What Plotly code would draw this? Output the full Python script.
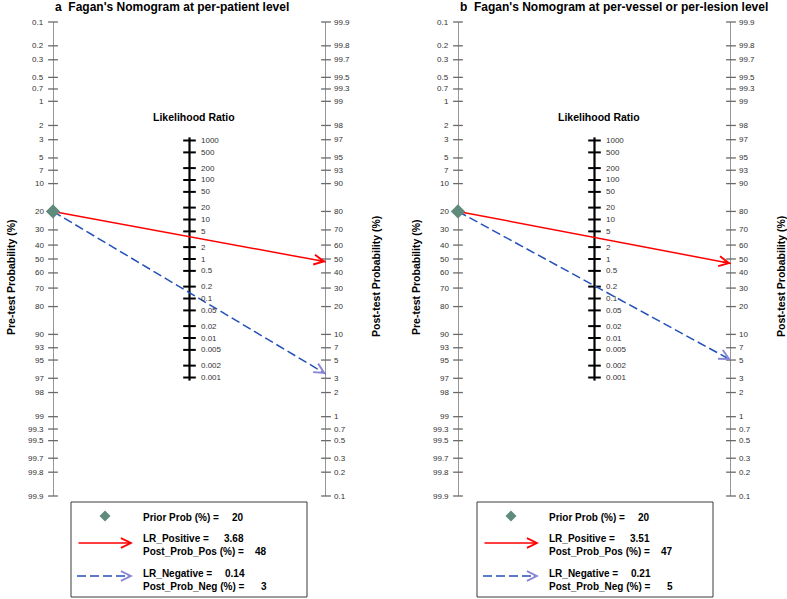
import math
import plotly.graph_objects as go

# ---------------- data ----------------
panel_titles = ["a  Fagan's Nomogram at per-patient level",
                "b  Fagan's Nomogram at per-vessel or per-lesion level"]
prior_prob = [20, 20]          # %
lr_positive = [3.68, 3.51]
lr_negative = [0.14, 0.21]
post_prob_pos = [48, 47]       # % (as printed in legend)
post_prob_neg = [3, 5]         # % (as printed in legend)

prob_ticks = ["0.1", "0.2", "0.3", "0.5", "0.7", "1", "2", "3", "5", "7", "10", "20", "30", "40",
              "50", "60", "70", "80", "90", "93", "95", "97", "98", "99", "99.3", "99.5", "99.7",
              "99.8", "99.9"]
lr_ticks = ["1000", "500", "200", "100", "50", "20", "10", "5", "2", "1", "0.5", "0.2", "0.1",
            "0.05", "0.02", "0.01", "0.005", "0.002", "0.001"]

# ---------------- layout constants ----------------
W, H = 787, 599
Y_TOP, Y_BOT = 22, 496
PAD = 12  # pixels of padding around the probability scale
PANEL_X = [(53, 326), (458, 731)]
U_MAX = math.log(0.999 / 0.001)
AX_GRAY = "#6a6a6a"
RED = "#ff0000"
BLUE = "#2350b8"
PURPLE = "#8a86d6"
DIAMOND = "#5f8a7c"
FONT = "Liberation Sans, Arial, sans-serif"


def logit(p):
    return math.log(p / (1 - p))


def px(x):
    return x / W


def py(y):
    return 1 - y / H


YS = (Y_BOT - Y_TOP) / (2 * U_MAX)   # pixels per logit unit
U_RANGE = U_MAX + PAD / YS

fig = go.Figure()
annotations = []
shapes = []
layout_axes = {}

for i in range(2):
    xL, xR = PANEL_X[i]
    xa = "x" if i == 0 else "x2"
    ya = "y" if i == 0 else "y2"
    xname = "xaxis" if i == 0 else "xaxis2"
    yname = "yaxis" if i == 0 else "yaxis2"
    layout_axes[xname] = dict(domain=[px(xL), px(xR)], range=[0, 1], visible=False,
                              fixedrange=True, anchor=ya)
    layout_axes[yname] = dict(domain=[py(Y_BOT + PAD), py(Y_TOP - PAD)],
                              range=[U_RANGE, -U_RANGE],
                              visible=False, fixedrange=True, anchor=xa)

    pre_u = [logit(float(t) / 100) for t in prob_ticks]       # left axis (pre-test)
    post_vals = [100 - float(t) for t in prob_ticks]         # right axis labels (post-test)
    lr_u = [-math.log(float(t)) / 2 for t in lr_ticks]

    # left & right probability axes
    for xv in (0, 1):
        fig.add_trace(go.Scatter(x=[xv, xv], y=[-U_MAX, U_MAX], mode="lines",
                                 line=dict(color=AX_GRAY, width=1.4), xaxis=xa, yaxis=ya,
                                 hoverinfo="skip", showlegend=False, cliponaxis=False))
        fig.add_trace(go.Scatter(x=[xv] * len(pre_u), y=pre_u, mode="markers",
                                 marker=dict(symbol="line-ew", size=7,
                                             line=dict(color=AX_GRAY, width=1.3)),
                                 xaxis=xa, yaxis=ya, hoverinfo="skip", showlegend=False,
                                 cliponaxis=False))
    # likelihood ratio axis
    lr_ext = max(abs(v) for v in lr_u) + 0.09
    fig.add_trace(go.Scatter(x=[0.5, 0.5], y=[-lr_ext, lr_ext], mode="lines",
                             line=dict(color="black", width=2.2), xaxis=xa, yaxis=ya,
                             hoverinfo="skip", showlegend=False, cliponaxis=False))
    fig.add_trace(go.Scatter(x=[0.5] * len(lr_u), y=lr_u, mode="markers",
                             marker=dict(symbol="line-ew", size=9,
                                         line=dict(color="black", width=2)),
                             xaxis=xa, yaxis=ya, hoverinfo="skip", showlegend=False,
                             cliponaxis=False))

    # tick labels
    for t, u in zip(prob_ticks, pre_u):
        annotations.append(dict(x=0, y=u, xref=xa, yref=ya, text=t, showarrow=False,
                                xanchor="right", yanchor="middle", xshift=-7,
                                font=dict(size=8, color="#333333", family=FONT)))
    for v, u in zip(post_vals, pre_u):
        lab = ("%g" % round(v, 1))
        annotations.append(dict(x=1, y=u, xref=xa, yref=ya, text=lab, showarrow=False,
                                xanchor="left", yanchor="middle", xshift=6,
                                font=dict(size=8, color="#333333", family=FONT)))
    for t, u in zip(lr_ticks, lr_u):
        annotations.append(dict(x=0.5, y=u, xref=xa, yref=ya, text=t, showarrow=False,
                                xanchor="left", yanchor="middle", xshift=9,
                                font=dict(size=8, color="#333333", family=FONT)))

    # nomogram lines
    u0 = logit(prior_prob[i] / 100)
    u_pos = u0 + math.log(lr_positive[i])
    u_neg = u0 + math.log(lr_negative[i])
    end_pos = -u_pos
    end_neg = -u_neg
    fig.add_trace(go.Scatter(x=[0, 1], y=[u0, end_pos], mode="lines",
                             line=dict(color=RED, width=1.5), xaxis=xa, yaxis=ya,
                             hoverinfo="skip", showlegend=False, cliponaxis=False))
    fig.add_trace(go.Scatter(x=[0, 1], y=[u0, end_neg], mode="lines",
                             line=dict(color=BLUE, width=1.5, dash="9px,4px"), xaxis=xa,
                             yaxis=ya, hoverinfo="skip", showlegend=False, cliponaxis=False))
    fig.add_trace(go.Scatter(x=[0], y=[u0], mode="markers",
                             marker=dict(symbol="diamond", size=11, color=DIAMOND),
                             xaxis=xa, yaxis=ya, hoverinfo="skip", showlegend=False,
                             cliponaxis=False))

    # arrow heads (direction computed from the line in pixel space)
    xs = xR - xL
    for end, col, L in ((end_pos, RED, 10), (end_neg, PURPLE, 7)):
        dxp = xs
        dyp = (end - u0) * YS
        ln = math.hypot(dxp, dyp)
        annotations.append(dict(x=1, y=end, xref=xa, yref=ya, text="", showarrow=True,
                                ax=-dxp / ln * L, ay=-dyp / ln * L, arrowhead=5,
                                arrowsize=1.3, arrowwidth=1.5, arrowcolor=col, standoff=0))

    # titles
    annotations.append(dict(x=px(xL), y=py(7), xref="paper", yref="paper",
                            text="<b>%s</b>" % panel_titles[i], showarrow=False,
                            xanchor="left", yanchor="middle",
                            font=dict(size=12, color="black", family=FONT)))
    annotations.append(dict(x=px((xL + xR) / 2 + 4), y=py(117), xref="paper", yref="paper",
                            text="<b>Likelihood Ratio</b>", showarrow=False,
                            xanchor="center", yanchor="middle",
                            font=dict(size=10.5, color="black", family=FONT)))
    annotations.append(dict(x=px(xL - 42), y=py(277), xref="paper", yref="paper",
                            text="<b>Pre-test Probability (%)</b>", showarrow=False,
                            textangle=-90, xanchor="center", yanchor="middle",
                            font=dict(size=10.5, color="black", family=FONT)))
    annotations.append(dict(x=px(xR + 50), y=py(277), xref="paper", yref="paper",
                            text="<b>Post-test Probability (%)</b>", showarrow=False,
                            textangle=-90, xanchor="center", yanchor="middle",
                            font=dict(size=10.5, color="black", family=FONT)))

    # legend box
    lx0 = xL + 18 if i == 0 else xL + 19
    lx1 = lx0 + 236
    shapes.append(dict(type="rect", xref="paper", yref="paper", x0=px(lx0), x1=px(lx1),
                       y0=py(597), y1=py(502), line=dict(color="#3a3a3a", width=1),
                       fillcolor="white", layer="below"))
    cx, cy, r = lx0 + 34, 516, 5.5
    shapes.append(dict(type="path", xref="paper", yref="paper",
                       path="M %f %f L %f %f L %f %f L %f %f Z" % (
                           px(cx - r), py(cy), px(cx), py(cy - r), px(cx + r), py(cy),
                           px(cx), py(cy + r)),
                       fillcolor=DIAMOND, line=dict(width=0)))
    annotations.append(dict(x=px(lx0 + 62), y=py(543), xref="paper", yref="paper", text="",
                            showarrow=True, ax=-56, ay=0, arrowhead=5, arrowsize=1.3,
                            arrowwidth=1.5, arrowcolor=RED, standoff=0))
    shapes.append(dict(type="line", xref="paper", yref="paper", x0=px(lx0 + 6),
                       x1=px(lx0 + 56), y0=py(576), y1=py(576),
                       line=dict(color=BLUE, width=1.5, dash="9px,4px")))
    annotations.append(dict(x=px(lx0 + 62), y=py(576), xref="paper", yref="paper", text="",
                            showarrow=True, ax=-7, ay=0, arrowhead=5, arrowsize=1.3,
                            arrowwidth=1.5, arrowcolor=PURPLE, standoff=0))
    leg_font = dict(size=10, color="black", family=FONT)
    rows = [("Prior Prob (%) =", "%g" % prior_prob[i], 517, 159),
            ("LR_Positive =", "%.2f" % lr_positive[i], 538, 151),
            ("Post_Prob_Pos (%) =", "%g" % post_prob_pos[i], 551, 182),
            ("LR_Negative =", "%.2f" % lr_negative[i], 573, 152),
            ("Post_Prob_Neg (%) =", "%g" % post_prob_neg[i], 586, 188)]
    for lab, val, yy, off in rows:
        annotations.append(dict(x=px(lx0 + 70), y=py(yy), xref="paper", yref="paper",
                                text="<b>%s</b>" % lab, showarrow=False, xanchor="left",
                                yanchor="middle", font=leg_font))
        annotations.append(dict(x=px(lx0 + off), y=py(yy), xref="paper", yref="paper",
                                text="<b>%s</b>" % val, showarrow=False, xanchor="left",
                                yanchor="middle", font=leg_font))

fig.update_layout(width=W, height=H, margin=dict(l=0, r=0, t=0, b=0),
                  paper_bgcolor="white", plot_bgcolor="white", showlegend=False,
                  annotations=annotations, shapes=shapes, **layout_axes)
fig.write_html("out.html", config={"displayModeBar": False},
               post_script="document.body.style.margin='0';"
                           "document.body.style.padding='0';"
                           "document.body.style.overflow='hidden';")
